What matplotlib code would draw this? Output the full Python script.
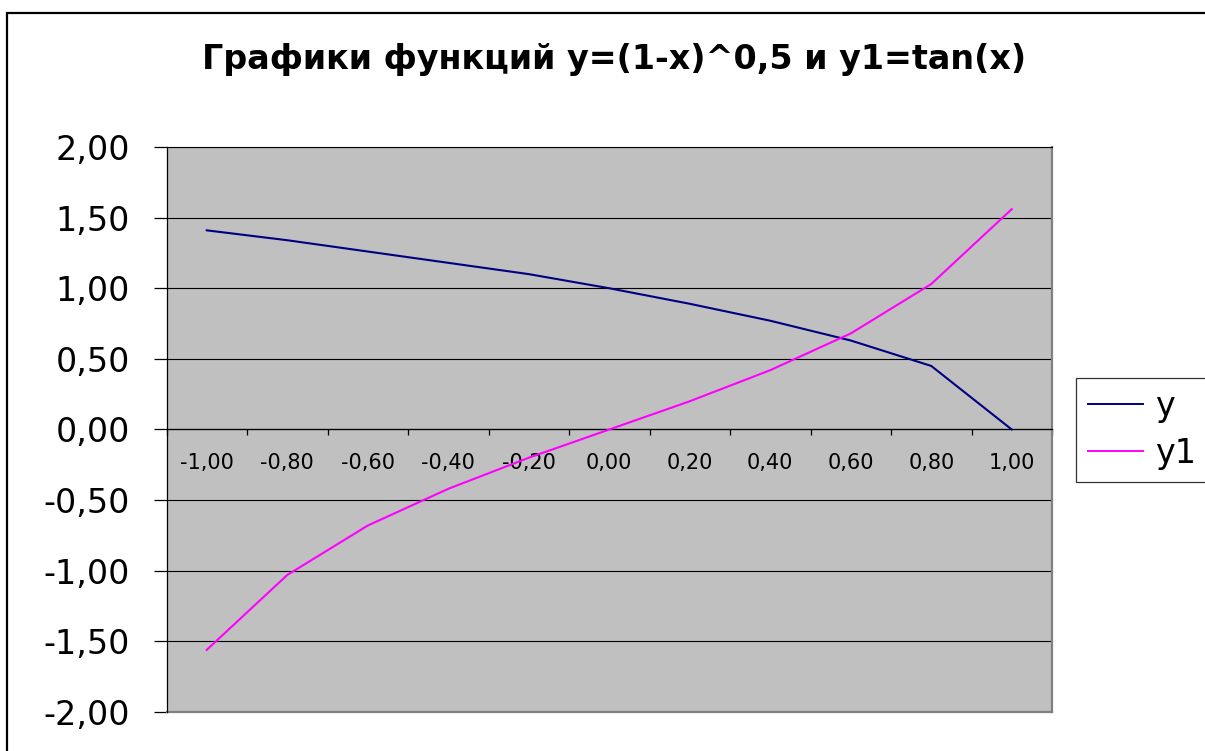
import matplotlib
matplotlib.use("Agg")
import matplotlib.pyplot as plt
from matplotlib.patches import Rectangle
from matplotlib.ticker import FixedLocator, NullFormatter

# x values as shown on the category axis
x_labels = ["-1,00", "-0,80", "-0,60", "-0,40", "-0,20", "0,00",
            "0,20", "0,40", "0,60", "0,80", "1,00"]
# y = (1-x)^0.5
y_values = [1.41, 1.34, 1.26, 1.18, 1.10, 1.00, 0.89, 0.77, 0.63, 0.45, 0.00]
# y1 = tan(x)
y1_values = [-1.56, -1.03, -0.68, -0.42, -0.20, 0.00, 0.20, 0.42, 0.68, 1.03, 1.56]

y_ticks = [-2.0, -1.5, -1.0, -0.5, 0.0, 0.5, 1.0, 1.5, 2.0]
y_tick_labels = ["-2,00", "-1,50", "-1,00", "-0,50", "0,00", "0,50", "1,00", "1,50", "2,00"]

title = "Графики функций y=(1-x)^0,5 и y1=tan(x)"

plt.rcParams["font.family"] = ["DejaVu Sans"]

W, H = 1205, 751
fig = plt.figure(figsize=(W / 100, H / 100), dpi=100)
fig.patch.set_facecolor("white")

# outer chart frame
fig.patches.append(Rectangle((7 / W, -0.05), 1.1, 0.05 + 1 - 13 / H,
                             transform=fig.transFigure, fill=False,
                             edgecolor="black", linewidth=1.6, zorder=0))

left, right, top, bottom = 166.5, 1052, 147, 712
ax = fig.add_axes([left / W, 1 - bottom / H, (right - left) / W, (bottom - top) / H])
ax.set_facecolor("#C0C0C0")

pos = list(range(len(x_labels)))
ax.plot(pos, y_values, color="#000080", linewidth=1.5, label="y", zorder=3)
ax.plot(pos, y1_values, color="#FF00FF", linewidth=1.5, label="y1", zorder=3)

ax.set_xlim(-0.5, len(x_labels) - 0.5)
ax.set_ylim(-2, 2)

# value axis
ax.set_yticks(y_ticks)
ax.set_yticklabels(y_tick_labels, fontsize=24)
ax.tick_params(axis="y", direction="out", length=9.4, width=0.9, pad=17, colors="black")
ax.grid(axis="y", color="black", linewidth=0.8, zorder=1)
ax.set_axisbelow(True)

# category axis crossing at zero
ax.spines["bottom"].set_position(("data", 0))
ax.spines["bottom"].set_linewidth(0.9)
ax.spines["left"].set_linewidth(0.9)
ax.spines["top"].set_linewidth(0.8)
ax.spines["right"].set_color("#808080")
ax.spines["right"].set_linewidth(1.6)
ax.axhline(-2, color="#808080", linewidth=1.6, clip_on=False, zorder=2)

ax.xaxis.set_major_locator(FixedLocator([p + 0.5 for p in [-1] + pos]))
ax.xaxis.set_major_formatter(NullFormatter())
ax.xaxis.set_minor_locator(FixedLocator(pos))
ax.set_xticklabels(x_labels, minor=True, fontsize=15)
ax.tick_params(axis="x", which="major", direction="out", length=4.5, width=0.9)
ax.tick_params(axis="x", which="minor", length=0, pad=17)

fig.text(614 / W, 1 - 60 / H, title, ha="center", va="center",
         fontsize=24, fontweight="bold")

leg = ax.legend(loc="upper left", bbox_to_anchor=(1076 / W, 1 - 378 / H),
                bbox_transform=fig.transFigure, fontsize=24,
                frameon=True, fancybox=False, shadow=False, borderaxespad=0,
                handlelength=1.65, handletextpad=0.35, borderpad=0.36,
                labelspacing=0.42)
leg.get_frame().set_edgecolor("black")
leg.get_frame().set_linewidth(0.9)
for line in leg.get_lines():
    line.set_linewidth(1.4)

fig.savefig("out.png", dpi=100, facecolor="white")
